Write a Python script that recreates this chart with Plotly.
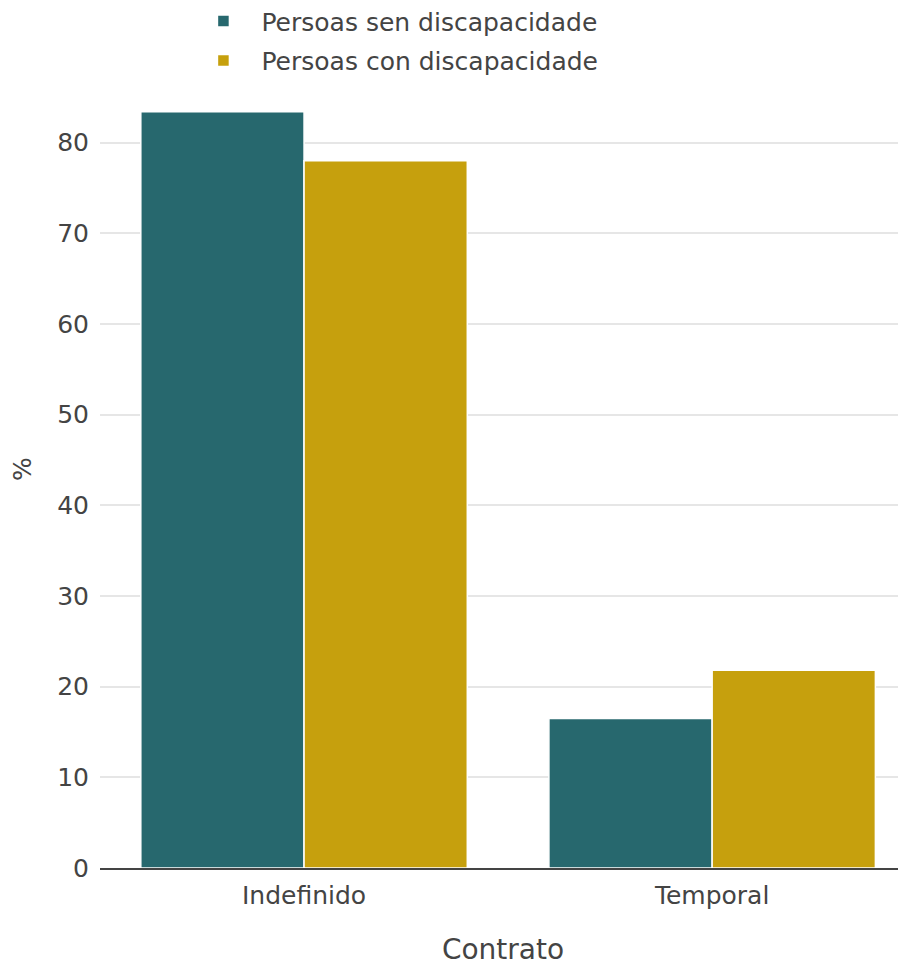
import plotly.graph_objects as go

categories = ["Indefinido", "Temporal"]
series_names = ["Persoas sen discapacidade", "Persoas con discapacidade"]
sen_values = [83.4, 16.5]
con_values = [78.0, 21.8]
colors = ["#27686E", "#C6A00D"]
y_ticks = [0, 10, 20, 30, 40, 50, 60, 70, 80]

FONT = "DejaVu Sans"

fig = go.Figure()
for name, vals, col in zip(series_names, [sen_values, con_values], colors):
    fig.add_trace(go.Bar(
        x=categories, y=vals, name=name, legendgroup=name,
        marker=dict(color=col, line=dict(color="white", width=1.5)),
    ))

fig.update_layout(
    width=898, height=958,
    barmode="group", bargap=0.2, bargroupgap=0,
    plot_bgcolor="white", paper_bgcolor="white",
    font=dict(family=FONT, size=25, color="#444"),
    margin=dict(l=92, r=0, t=62, b=98, autoexpand=False),
    showlegend=True,
    legend=dict(
        orientation="v", x=0.106, xanchor="left", y=1.090, yref="paper",
        yanchor="top", font=dict(size=25), itemwidth=66,
        tracegroupgap=4, traceorder="grouped",
        bgcolor="rgba(0,0,0,0)",
    ),
    xaxis=dict(
        range=[-0.5, 1.475], showgrid=False, showline=True, automargin=False,
        linecolor="#444", linewidth=2, ticks="",
        title=dict(text="Contrato", font=dict(size=28), standoff=37),
        tickfont=dict(size=25), ticklabelstandoff=4,
    ),
    yaxis=dict(
        range=[0, 88], tickvals=y_ticks, showgrid=True, automargin=False,
        gridcolor="#e6e6e6", gridwidth=1.5, zeroline=False,
        showline=False, ticks="", tickfont=dict(size=25),
        title=dict(text="%", font=dict(size=25), standoff=22),
        ticklabelstandoff=10,
    ),
)

fig.write_html("out.html")
